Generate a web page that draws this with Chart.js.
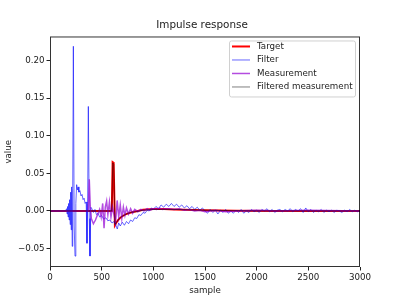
<!DOCTYPE html>
<html>
<head>
<meta charset="utf-8">
<script src="https://cdn.jsdelivr.net/npm/chart.js@4"></script>
<style>
  body { margin: 0; background: #fff; }
</style>
</head>
<body>
<canvas id="myChart" width="400" height="300"></canvas>
<script>
// [sample, value] pairs
const target = [
  [0, 0], [598, 0], [606, 0.065], [616, 0.064], [628, -0.019], [640, -0.016],
  [660, -0.012], [680, -0.009], [700, -0.007], [730, -0.0045], [760, -0.003],
  [800, -0.0015], [850, 0], [900, 0.0015], [1000, 0.0025], [1100, 0.0025],
  [1200, 0.002], [1300, 0.0015], [1500, 0.0008], [1800, 0.0003], [2200, 0], [3000, 0],
];
const filter = [
  [0, 0], [150, 0], [160, 0.003], [165, -0.004], [170, 0.006], [175, -0.008],
  [180, 0.010], [185, -0.012], [190, 0.015], [195, -0.018], [200, 0.025],
  [205, -0.025], [210, 0.032], [215, -0.047], [220, 0.030], [226, 0.219],
  [234, -0.020], [242, -0.060], [250, 0.010], [258, 0.035], [265, 0.028],
  [272, 0.032], [280, 0.025], [290, 0.027], [300, 0.020], [310, 0.022],
  [320, 0.015], [330, 0.017], [340, 0.010], [350, 0.012], [358, -0.043],
  [364, 0.010], [371, 0.139], [380, -0.010], [387, -0.060], [395, 0.005],
  [405, 0.003], [420, -0.002], [435, 0.002], [450, -0.005], [465, -0.003],
  [480, -0.008], [500, -0.006], [520, -0.011], [540, -0.009], [560, -0.013],
  [580, -0.012], [600, -0.016], [620, -0.014], [640, -0.020], [651, -0.024],
  [665, -0.016], [680, -0.020], [700, -0.015], [720, -0.019], [740, -0.014],
  [760, -0.017], [780, -0.012], [800, -0.014], [820, -0.009], [840, -0.010],
  [860, -0.005], [880, -0.006], [900, -0.002], [920, -0.003], [940, 0.001],
  [960, 0.000], [980, 0.004], [1000, 0.002], [1025, 0.006], [1050, 0.003],
  [1075, 0.008], [1100, 0.005], [1125, 0.009], [1150, 0.006], [1175, 0.010],
  [1200, 0.006], [1225, 0.009], [1250, 0.005], [1275, 0.008], [1300, 0.004],
  [1325, 0.007], [1350, 0.003], [1375, 0.006], [1400, 0.002], [1425, 0.005],
  [1450, 0.001], [1475, 0.004], [1500, 0.000], [1525, -0.003], [1550, 0.002],
  [1575, -0.002], [1600, 0.001], [1625, -0.004], [1650, 0.001], [1675, -0.002],
  [1700, 0.002], [1725, -0.003], [1750, 0.000], [1775, -0.003], [1800, 0.001],
  [1825, -0.002], [1850, 0.002], [1875, -0.003], [1900, 0.000], [1925, -0.002],
  [1950, 0.002], [1975, -0.001], [2000, 0.001], [2025, -0.002], [2050, 0.002],
  [2075, 0.000], [2100, 0.003], [2125, -0.001], [2150, 0.002], [2175, -0.002],
  [2200, 0.001], [2225, 0.002], [2250, -0.001], [2275, 0.002], [2300, 0.000],
  [2325, 0.003], [2350, -0.001], [2375, 0.002], [2400, 0.000], [2425, 0.003],
  [2450, -0.002], [2475, 0.004], [2500, -0.001], [2525, 0.002], [2550, -0.002],
  [2575, 0.001], [2600, -0.001], [2625, 0.002], [2650, -0.002], [2675, 0.001],
  [2700, -0.001], [2725, 0.001], [2750, -0.002], [2775, 0.001], [2800, 0.000],
  [2825, -0.002], [2850, 0.001], [2875, -0.001], [2900, 0.002], [2925, -0.001],
  [2950, 0.001], [2975, -0.001], [3000, 0.001],
];
const measurement = [
  [0, 0], [370, 0], [380, 0.042], [390, 0.005], [400, -0.010], [420, -0.017],
  [440, -0.012], [460, -0.005], [480, 0.002], [495, -0.008], [510, 0.010],
  [523, -0.023], [535, 0.005], [548, 0.013], [560, -0.005], [575, 0.012],
  [590, -0.008], [605, 0.005], [620, -0.005], [635, -0.015], [650, 0.014],
  [665, -0.008], [680, 0.008], [695, -0.010], [710, 0.005], [725, -0.006],
  [740, 0.004], [760, -0.004], [780, 0.003], [800, -0.003], [820, 0.002],
  [850, -0.001], [880, 0.002], [910, 0.000], [940, 0.003], [970, 0.001],
  [1000, 0.003], [1030, 0.002], [1060, 0.004], [1090, 0.002], [1120, 0.003],
  [1150, 0.003], [1200, 0.002], [1250, 0.003], [1300, 0.001], [1350, 0.002],
  [1400, 0.000], [1450, 0.001], [1500, -0.001], [1600, 0.001], [1700, -0.001],
  [1800, 0.000], [2000, 0.001], [2200, 0.000], [2500, 0.001], [3000, 0.000],
];
const filteredMeasurement = [
  [0, 0], [598, 0], [607, 0.064], [617, 0.062], [629, -0.018], [645, -0.015],
  [670, -0.010], [700, -0.007], [740, -0.004], [780, -0.002], [830, -0.001],
  [900, 0.001], [1000, 0.002], [1200, 0.002], [1500, 0.001], [2000, 0], [3000, 0],
];

const xTicks = [0, 500, 1000, 1500, 2000, 2500, 3000];
const yTicks = [-0.05, 0, 0.05, 0.1, 0.15, 0.2];

const toPoints = (arr) => arr.map(([x, y]) => ({ x, y }));
const font = { family: "DejaVu Sans", size: 8.7 };

// matplotlib-style frame and in-axes legend
const framePlugin = {
  id: "frame",
  afterDraw(chart) {
    const { ctx, chartArea: a } = chart;
    ctx.save();
    ctx.strokeStyle = "rgba(0,0,0,0.8)";
    ctx.lineWidth = 1;
    ctx.strokeRect(a.left + 0.5, a.top + 0.5, a.right - a.left - 1, a.bottom - a.top - 1);

    const items = chart.data.datasets;
    const w = 126, rowH = 13.5, h = items.length * rowH + 2;
    const x0 = a.right - 5 - w, y0 = a.top + 4;
    ctx.fillStyle = "rgba(255,255,255,0.8)";
    ctx.strokeStyle = "#d0d0d0";
    ctx.beginPath();
    ctx.roundRect(x0 + 0.5, y0 + 0.5, w, h, 2);
    ctx.fill();
    ctx.stroke();
    ctx.font = "8.7px 'DejaVu Sans'";
    ctx.textBaseline = "middle";
    items.forEach((ds, i) => {
      const y = y0 + 6 + i * rowH;
      ctx.strokeStyle = ds.borderColor;
      ctx.lineWidth = ds.borderWidth;
      ctx.beginPath();
      ctx.moveTo(x0 + 3, y);
      ctx.lineTo(x0 + 21, y);
      ctx.stroke();
      ctx.fillStyle = "#222";
      ctx.fillText(ds.label, x0 + 28, y);
    });
    ctx.restore();
  },
};

const ctx = document.getElementById("myChart");
const chart = new Chart(ctx, {
  type: "line",
  data: {
    datasets: [
      {
        label: "Target",
        data: toPoints(target),
        borderColor: "red",
        borderWidth: 2,
        order: 3,
      },
      {
        label: "Filter",
        data: toPoints(filter),
        borderColor: "rgba(0,0,255,0.6)",
        borderWidth: 1,
        order: 2,
      },
      {
        label: "Measurement",
        data: toPoints(measurement),
        borderColor: "rgba(148,0,211,0.7)",
        borderWidth: 1.5,
        order: 1,
      },
      {
        label: "Filtered measurement",
        data: toPoints(filteredMeasurement),
        borderColor: "rgba(0,0,0,0.5)",
        borderWidth: 1,
        order: 0,
      },
    ],
  },
  options: {
    responsive: false,
    animation: false,
    elements: {
      point: { radius: 0 },
      line: { tension: 0 },
    },
    layout: {
      padding: { left: 4, right: 0, top: 0, bottom: 0 },
    },
    plugins: {
      legend: { display: false },
      tooltip: { enabled: false },
      title: {
        display: true,
        text: "Impulse response",
        color: "#222",
        font: { family: "DejaVu Sans", size: 10.4, weight: "normal" },
        padding: { top: 19, bottom: 5 },
      },
    },
    scales: {
      x: {
        type: "linear",
        min: 0,
        max: 3000,
        afterBuildTicks: (s) => { s.ticks = xTicks.map((v) => ({ value: v })); },
        afterFit: (s) => { s.height = 33; },
        ticks: { font, color: "#222", padding: 2, maxRotation: 0, callback: (v) => String(v) },
        grid: { drawOnChartArea: false, tickLength: 3.5, color: "#222" },
        border: { display: false },
        title: {
          display: true,
          text: "sample",
          font,
          color: "#222",
          padding: { top: 0, bottom: 4 },
        },
      },
      y: {
        min: -0.0745,
        max: 0.232,
        afterBuildTicks: (s) => { s.ticks = yTicks.map((v) => ({ value: v })); },
        afterFit: (s) => { s.width = 46; },
        ticks: {
          font,
          color: "#222",
          padding: 2,
          callback: (v) => (v < 0 ? "\u2212" + Math.abs(v).toFixed(2) : v.toFixed(2)),
        },
        grid: { drawOnChartArea: false, tickLength: 3.5, color: "#222" },
        border: { display: false },
        title: {
          display: true,
          text: "value",
          font,
          color: "#222",
          padding: { top: 0, bottom: 0 },
        },
      },
      y2: {
        position: "right",
        afterFit: (s) => { s.width = 40; },
        ticks: { display: false },
        grid: { display: false },
        border: { display: false },
      },
    },
  },
  plugins: [framePlugin],
});
</script>
</body>
</html>
